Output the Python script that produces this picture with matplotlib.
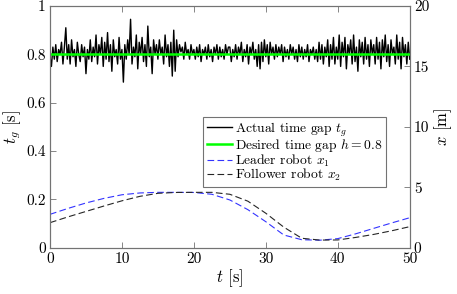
import numpy as np
import matplotlib
matplotlib.use("Agg")
import matplotlib.pyplot as plt

plt.rcParams["font.family"] = "serif"
plt.rcParams["font.serif"] = ["cmr10", "DejaVu Serif"]
plt.rcParams["mathtext.fontset"] = "cm"
plt.rcParams["axes.formatter.use_mathtext"] = True

# time gap samples, dt = 0.2 s
dt = 0.2
gap = [
    0.79, 0.75, 0.83, 0.78, 0.84, 0.77, 0.82, 0.80, 0.85, 0.76, 0.83, 0.91, 0.78, 0.84, 0.76, 0.86, 0.79, 0.82, 0.75, 0.85, 0.80, 0.77, 0.84, 0.79, 0.83,
    0.72, 0.82, 0.78, 0.86, 0.77, 0.83, 0.79, 0.88, 0.76, 0.84, 0.80, 0.87, 0.75, 0.85, 0.78, 0.89, 0.77, 0.84, 0.73, 0.86, 0.79, 0.82, 0.76, 0.87, 0.78,
    0.82, 0.685, 0.84, 0.78, 0.86, 0.80, 0.945, 0.76, 0.83, 0.79, 0.88, 0.74, 0.85, 0.80, 0.87, 0.77, 0.84, 0.75, 0.917, 0.79, 0.83, 0.72, 0.86, 0.80, 0.84,
    0.78, 0.86, 0.80, 0.83, 0.76, 0.88, 0.79, 0.84, 0.75, 0.85, 0.71, 0.90, 0.73, 0.86, 0.79, 0.84, 0.81, 0.83, 0.78, 0.85, 0.80, 0.82, 0.78, 0.84, 0.80,
    0.82, 0.78, 0.83, 0.79, 0.84, 0.77, 0.82, 0.80, 0.83, 0.78, 0.84, 0.79, 0.82, 0.77, 0.83, 0.80, 0.84, 0.78, 0.83, 0.79, 0.82, 0.78, 0.84, 0.80, 0.83,
    0.83, 0.77, 0.82, 0.79, 0.84, 0.78, 0.83, 0.80, 0.85, 0.77, 0.82, 0.79, 0.84, 0.76, 0.83, 0.80, 0.85, 0.78, 0.82, 0.75, 0.84, 0.74, 0.85, 0.77, 0.86,
    0.79, 0.84, 0.76, 0.85, 0.80, 0.83, 0.78, 0.84, 0.79, 0.83, 0.80, 0.84, 0.77, 0.83, 0.79, 0.82, 0.78, 0.84, 0.80, 0.83, 0.78, 0.82, 0.77, 0.84, 0.79,
    0.83, 0.78, 0.82, 0.79, 0.84, 0.77, 0.82, 0.80, 0.83, 0.78, 0.82, 0.77, 0.85, 0.78, 0.84, 0.76, 0.83, 0.79, 0.86, 0.75, 0.84, 0.78, 0.87, 0.76, 0.83,
    0.78, 0.88, 0.75, 0.85, 0.79, 0.87, 0.74, 0.84, 0.80, 0.86, 0.76, 0.88, 0.77, 0.83, 0.73, 0.86, 0.79, 0.85, 0.76, 0.87, 0.78, 0.84, 0.75, 0.86, 0.80,
    0.84, 0.76, 0.87, 0.78, 0.85, 0.74, 0.86, 0.79, 0.88, 0.77, 0.84, 0.75, 0.86, 0.80, 0.83, 0.76, 0.88, 0.78, 0.85, 0.74, 0.87, 0.79, 0.84, 0.76, 0.85, 0.78,
]
h = 0.8

# robot positions [m]
t_pos = [0, 2.5, 5, 7.5, 10, 12.5, 15, 17.5, 20, 22.5, 25, 27.5, 30, 32.5, 35, 37.5, 40, 42.5, 45, 47.5, 50]
x1 = [2.76, 3.25, 3.70, 4.08, 4.38, 4.53, 4.58, 4.58, 4.57, 4.42, 3.95, 3.15, 2.15, 1.05, 0.66, 0.62, 0.75, 1.15, 1.60, 2.05, 2.48]
x2 = [2.07, 2.55, 3.00, 3.45, 3.88, 4.25, 4.50, 4.57, 4.58, 4.58, 4.42, 3.85, 2.85, 1.70, 0.78, 0.63, 0.64, 0.85, 1.10, 1.40, 1.74]

t_gap = np.arange(len(gap)) * dt

fig = plt.figure(figsize=(4.57, 2.94), dpi=100)
ax = fig.add_axes([0.1094, 0.1575, 0.7871, 0.8221])
ax2 = ax.twinx()

l1, = ax.plot(t_gap, gap, color="k", lw=1.0, label="Actual time gap $t_g$")
l2, = ax.plot([0, 50], [h, h], color=(0, 1, 0), lw=1.8, label="Desired time gap $h = 0.8$")
l3, = ax2.plot(t_pos, x1, color=(0.2, 0.2, 1), ls=(0, (6, 3)), lw=0.8, label="Leader robot $x_1$")
l4, = ax2.plot(t_pos, x2, color="0.15", ls=(0, (6, 3)), lw=0.8, label="Follower robot $x_2$")

ax.set_xlim(0, 50)
ax.set_ylim(0, 1)
ax2.set_ylim(0, 20)
ax.set_xticks([0, 10, 20, 30, 40, 50])
ax.set_xticklabels(["0", "10", "20", "30", "40", "50"])
ax.set_yticks([0, 0.2, 0.4, 0.6, 0.8, 1])
ax.set_yticklabels(["0", "0.2", "0.4", "0.6", "0.8", "1"])
ax2.set_yticks([0, 5, 10, 15, 20])
ax2.set_yticklabels(["0", "5", "10", "15", "20"])

for a in (ax, ax2):
    for s in a.spines.values():
        s.set_color("0.45")
        s.set_linewidth(0.8)
    a.tick_params(direction="in", length=4, width=0.6, color="0.45", labelsize=11, pad=3)
ax.tick_params(axis="x", top=True)

ax.set_xlabel("$t$ [s]", fontsize=12, labelpad=1)
ax.set_ylabel("$t_g$ [s]", fontsize=12, labelpad=2)
ax2.set_ylabel("$x$ [m]", fontsize=12, labelpad=2)

leg = ax2.legend(handles=[l1, l2, l3, l4], loc="upper right", bbox_to_anchor=(0.933, 0.541),
                 borderaxespad=0, fontsize=9.8, frameon=True, fancybox=False, framealpha=1,
                 edgecolor="0.45", handlelength=1.85, handletextpad=0.2, borderpad=0.25,
                 labelspacing=-0.12)
leg.get_frame().set_linewidth(0.8)

fig.savefig("out.png", dpi=100)
